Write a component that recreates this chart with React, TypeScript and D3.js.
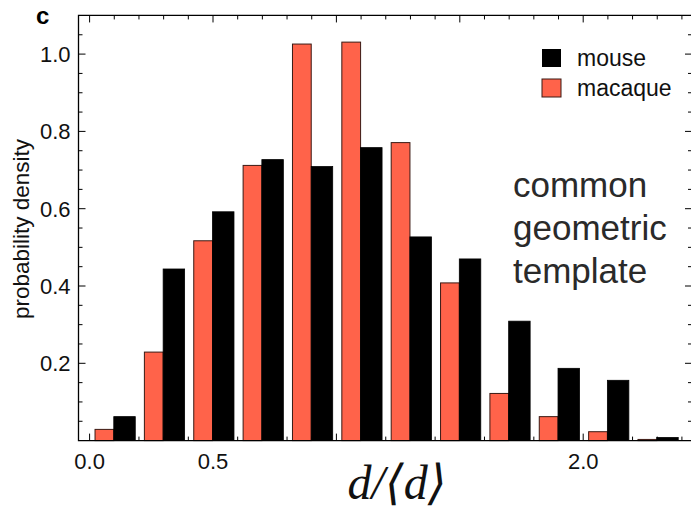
import React from "react";
import * as d3 from "d3";

// Histogram of normalised distances d/<d> for two species (bin width 0.2)
const binLefts = [0.0, 0.2, 0.4, 0.6, 0.8, 1.0, 1.2, 1.4, 1.6, 1.8, 2.0, 2.2];
const mouse = [0.062, 0.444, 0.592, 0.727, 0.709, 0.758, 0.527, 0.47, 0.309, 0.187, 0.156, 0.008];
const macaque = [0.029, 0.229, 0.517, 0.712, 1.026, 1.031, 0.771, 0.408, 0.122, 0.062, 0.023, 0.003];

const xTickValues = [0.0, 0.5, 2.0];
const xTickLabels = ["0.0", "0.5", "2.0"];
const yTickValues = [0.2, 0.4, 0.6, 0.8, 1.0];
const yTickLabels = ["0.2", "0.4", "0.6", "0.8", "1.0"];

const seriesNames = ["mouse", "macaque"];
const noteLines = ["common", "geometric", "template"];

const W = 691;
const H = 508;
const FONT = "'Liberation Sans', Arial, Helvetica, sans-serif";
const ORANGE = "#ff634a";
const EDGE = "#3a1a14";

export default function App() {
  const x = d3.scaleLinear().domain([0, 2]).range([89.6, 583.2]);
  const y = d3.scaleLinear().domain([0, 1]).range([440.6, 54.1]);

  const left = 78.5;
  const right = 692;
  const top = y(1.1);
  const bottom = y(0);

  const xMinor = d3.range(0, 25).map((i) => i / 10);
  const yMinor = d3.range(1, 22).map((i) => i / 20);
  const isHalf = (v: number) => Math.abs(v * 2 - Math.round(v * 2)) < 1e-6;
  const isFifth = (v: number) => Math.abs(v * 5 - Math.round(v * 5)) < 1e-6;

  return (
    <svg
      width={W}
      height={H}
      style={{ position: "absolute", left: 0, top: 0, display: "block", background: "#fff" }}
      fontFamily={FONT}
    >
      <rect x={0} y={0} width={W} height={H} fill="#fff" />

      {/* bottom ticks (drawn beneath the bars) */}
      {xMinor.map((v) => (
        <line
          key={"bt" + v}
          x1={x(v)}
          x2={x(v)}
          y1={bottom}
          y2={bottom - (isHalf(v) ? 7 : 4)}
          stroke="#000"
          strokeWidth={1}
        />
      ))}

      {/* bars */}
      {binLefts.map((b, i) => (
        <g key={"bin" + i}>
          <rect
            x={x(b + 0.022)}
            y={y(macaque[i])}
            width={x(b + 0.098) - x(b + 0.022)}
            height={bottom - y(macaque[i])}
            fill={ORANGE}
            stroke={EDGE}
            strokeWidth={1}
          />
          <rect
            x={x(b + 0.098)}
            y={y(mouse[i])}
            width={x(b + 0.185) - x(b + 0.098)}
            height={bottom - y(mouse[i])}
            fill="#000"
            stroke="#000"
            strokeWidth={0.8}
          />
        </g>
      ))}

      {/* top ticks */}
      {xMinor.map((v) => (
        <line
          key={"tt" + v}
          x1={x(v)}
          x2={x(v)}
          y1={top}
          y2={top + (isHalf(v) ? 7 : 4)}
          stroke="#000"
          strokeWidth={1}
        />
      ))}

      {/* left and right ticks */}
      {yMinor.map((v) => (
        <g key={"yt" + v}>
          <line
            x1={left}
            x2={left + (isFifth(v) ? 7 : 4)}
            y1={y(v)}
            y2={y(v)}
            stroke="#000"
            strokeWidth={1}
          />
          <line
            x1={right}
            x2={right - (isFifth(v) ? 7 : 4)}
            y1={y(v)}
            y2={y(v)}
            stroke="#000"
            strokeWidth={1}
          />
        </g>
      ))}

      {/* frame */}
      <path
        d={`M${right},${top}H${left}V${bottom}H${right}`}
        fill="none"
        stroke="#000"
        strokeWidth={1.3}
      />

      {/* tick labels */}
      {yTickValues.map((v, i) => (
        <text
          key={"yl" + v}
          x={left - 8}
          y={y(v)}
          dy="0.36em"
          textAnchor="end"
          fontSize={22}
          fill="#111"
        >
          {yTickLabels[i]}
        </text>
      ))}
      {xTickValues.map((v, i) => (
        <text
          key={"xl" + v}
          x={x(v)}
          y={469}
          textAnchor="middle"
          fontSize={22}
          fill="#111"
        >
          {xTickLabels[i]}
        </text>
      ))}

      {/* axis titles */}
      <text
        transform={`translate(29,229) rotate(-90)`}
        textAnchor="middle"
        fontSize={22.5}
        fill="#111"
      >
        probability density
      </text>
      <text
        x={397}
        y={499}
        textAnchor="middle"
        fontSize={48}
        fontFamily="'Liberation Serif', 'DejaVu Serif', serif"
        fontStyle="italic"
        fill="#111"
      >
        d/⟨d⟩
      </text>

      {/* panel letter */}
      <text x={36} y={24} fontSize={24} fontWeight="bold" fill="#000">
        c
      </text>

      {/* legend */}
      <rect x={542} y={49} width={19} height={18} fill="#000" />
      <text x={577} y={66} fontSize={23} fill="#111">
        {seriesNames[0]}
      </text>
      <rect x={542} y={79} width={19} height={18} fill={ORANGE} stroke={EDGE} strokeWidth={1} />
      <text x={577} y={96} fontSize={23} fill="#111">
        {seriesNames[1]}
      </text>

      {/* annotation */}
      {noteLines.map((s, i) => (
        <text key={s} x={513} y={197 + i * 43} fontSize={35} fill="#2a2a2a">
          {s}
        </text>
      ))}
    </svg>
  );
}
